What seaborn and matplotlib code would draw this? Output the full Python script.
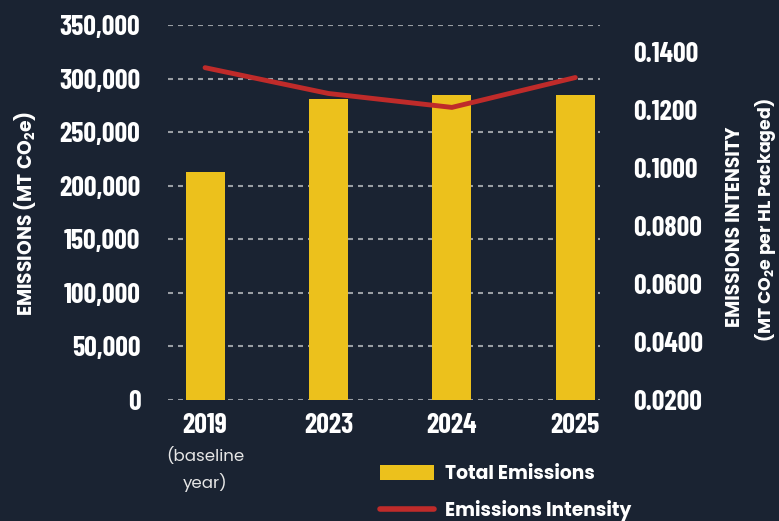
import matplotlib
matplotlib.use("Agg")
import matplotlib.pyplot as plt
import seaborn as sns
import numpy as np
import pandas as pd
from matplotlib.lines import Line2D
from matplotlib.patches import Patch

years = ["2019", "2023", "2024", "2025"]
total_emissions = [213000, 281000, 284500, 284500]
emissions_intensity = [0.1346, 0.1257, 0.1209, 0.1312]
left_ticks = [0, 50000, 100000, 150000, 200000, 250000, 300000, 350000]
right_ticks = [0.02, 0.04, 0.06, 0.08, 0.10, 0.12, 0.14]

BG = "#1a2332"
YELLOW = "#ecc11c"
RED = "#bf2b2a"
WHITE = "#ffffff"
GRID = "#9a9ea4"

sns.set_theme(style="dark")
COND = ["Barlow Condensed", "DejaVu Sans"]
GEO = ["Poppins", "DejaVu Sans"]
plt.rcParams["font.family"] = COND
plt.rcParams["mathtext.fontset"] = "custom"
plt.rcParams["mathtext.rm"] = "Poppins:bold"
plt.rcParams["mathtext.it"] = "Poppins:bold"
plt.rcParams["mathtext.bf"] = "Poppins:bold"

df = pd.DataFrame({"year": years, "total": total_emissions,
                   "intensity": emissions_intensity,
                   "pos": np.arange(len(years))})

fig = plt.figure(figsize=(7.79, 5.21), dpi=100, facecolor=BG)
ax = fig.add_axes([0.2157, 0.2322, 0.5545, 0.7198])
ax.set_facecolor(BG)

sns.barplot(data=df, x="year", y="total", color=YELLOW, width=0.316,
            saturation=1, ax=ax, zorder=2, edgecolor="none", linewidth=0)
ax.set_xlim(-0.30, 3.20)
ax.set_ylim(0, 350000)
ax.set_yticks(left_ticks)
ax.set_yticklabels([f"{v:,}" for v in left_ticks])
ax.yaxis.grid(True, color=GRID, linestyle=(0, (2.4, 2.4)), linewidth=1.5, zorder=0)
ax.xaxis.grid(False)
ax.set_axisbelow(True)
for s in ax.spines.values():
    s.set_visible(False)
ax.tick_params(axis="y", length=0, pad=20, labelsize=20, labelcolor=WHITE)
ax.tick_params(axis="x", length=0, pad=9, labelsize=20, labelcolor=WHITE)
for lab in ax.get_yticklabels() + ax.get_xticklabels():
    lab.set_fontweight("bold")
ax.set_xlabel("")
ax.set_ylabel("")

ax.annotate("(baseline\nyear)", xy=(0, 0), xycoords=("data", "axes fraction"),
            xytext=(0, -34), textcoords="offset points", ha="center", va="top",
            color="#e6e6e6", fontsize=12, linespacing=1.5, family=GEO)

ax2 = ax.twinx()
ax2.set_facecolor("none")
sns.lineplot(data=df, x="pos", y="intensity", color=RED, linewidth=3.5,
             ax=ax2, zorder=3, solid_capstyle="round")
ax2.set_ylim(0.02, 0.02 + 0.12 * 375 / 348)
ax2.set_yticks(right_ticks)
ax2.set_yticklabels([f"{v:.4f}" for v in right_ticks])
ax2.grid(False)
for s in ax2.spines.values():
    s.set_visible(False)
ax2.tick_params(axis="y", length=0, pad=24, labelsize=20, labelcolor=WHITE)
for lab in ax2.get_yticklabels():
    lab.set_fontweight("bold")
ax2.set_ylabel("")
ax2.set_xlabel("")
ax2.set_xlim(-0.30, 3.20)

fig.text(25 / 779, 1 - 213 / 521, "EMISSIONS (MT CO$_2$e)", rotation=90,
         ha="center", va="center", color=WHITE, fontsize=13.5, fontweight="bold",
         family=GEO)
fig.text(735 / 779, 1 - 227 / 521, "EMISSIONS INTENSITY", rotation=90,
         ha="center", va="center", color=WHITE, fontsize=13.5, fontweight="bold",
         family=GEO)
fig.text(766 / 779, 1 - 220 / 521, "(MT CO$_2$e per HL Packaged)", rotation=90,
         ha="center", va="center", color=WHITE, fontsize=12.5, fontweight="bold",
         family=GEO)

handles = [Patch(facecolor=YELLOW, edgecolor="none", label="Total Emissions"),
           Line2D([0], [0], color=RED, linewidth=4, label="Emissions Intensity")]
leg = fig.legend(handles=handles, loc="upper left",
                 bbox_to_anchor=(380 / 779, 1 - 465 / 521), frameon=False,
                 borderpad=0, borderaxespad=0,
                 handlelength=2.9, handleheight=0.85, handletextpad=0.55,
                 labelspacing=0.85,
                 prop={"weight": "bold", "size": 13.5, "family": GEO},
                 labelcolor=WHITE)

fig.savefig("out.png", dpi=100, facecolor=BG)
